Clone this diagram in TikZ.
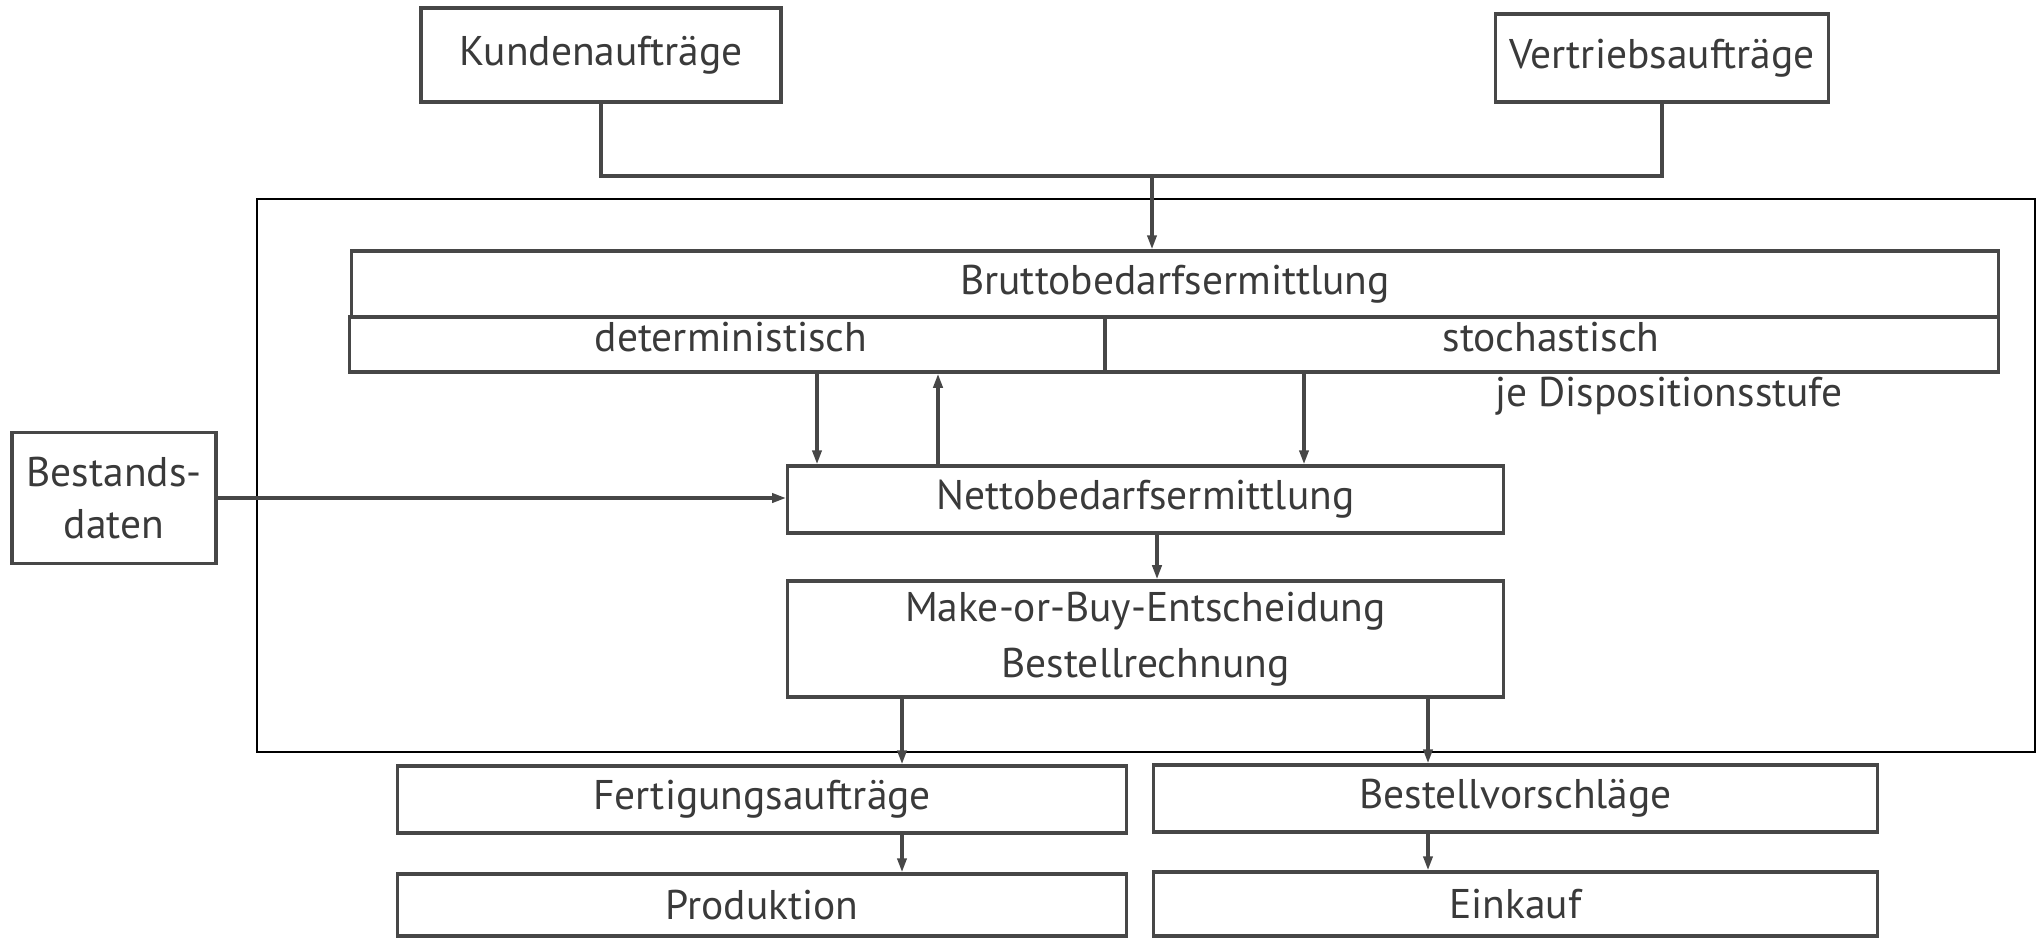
\documentclass[tikz,border=0pt]{standalone}
\usepackage{fontspec}
\setmainfont{PT Sans}
\usetikzlibrary{arrows.meta,calc}

\definecolor{linegray}{HTML}{474747}
\definecolor{textgray}{HTML}{3A3A3A}

\tikzset{
  box/.style={draw=linegray, line width=0.95pt, text=textgray, inner sep=0pt,
    align=center, font=\fontsize{11.8}{16}\selectfont},
  label/.style={text=textgray, inner sep=0pt, font=\fontsize{11.8}{16}\selectfont},
  conn/.style={draw=linegray, line width=0.95pt},
  arr/.style={conn, -{Triangle[length=4pt,width=2.6pt]}}
}

\begin{document}
\begin{tikzpicture}[x=0.01cm,y=-0.01cm]
  \useasboundingbox (0,0) rectangle (2038,938);

  %%%%% Eingaenge %%%%%
  \node[box, minimum width=3.6cm, minimum height=0.94cm] (kunden) at (601,55) {\raisebox{0.6mm}{Kundenaufträge}};
  \node[box, minimum width=3.33cm, minimum height=0.88cm] (vertrieb) at (1662,58) {Vertriebsaufträge};
  \node[box, minimum width=2.04cm, minimum height=1.31cm, font=\fontsize{11.8}{14.6}\selectfont] (bestand) at (114,498) {Bestands-\\daten};

  %%%%% Rahmen %%%%%
  \draw[black, line width=0.7pt] (257,199) rectangle (2035,752);

  \node[box, minimum width=16.46cm, minimum height=0.66cm] (brutto) at (1175,284) {};
  \node[label] at (1175,284) {Bruttobedarfsermittlung};
  \node[box, minimum width=7.55cm, minimum height=0.55cm] (det) at (727.5,344.5) {};
  \node[label] at (731,337) {deterministisch};
  \node[box, minimum width=8.93cm, minimum height=0.55cm] (stoch) at (1551.5,344.5) {};
  \node[label] at (1551,337) {stochastisch};
  \node[label] (stufe) at (1669,396) {je Dispositionsstufe};

  \node[box, minimum width=7.15cm, minimum height=0.67cm] (netto) at (1145.5,499.5) {Nettobedarfsermittlung};
  \node[box, minimum width=7.15cm, minimum height=1.16cm] (make) at (1145.5,639) {Make-or-Buy-Entscheidung\\Bestellrechnung};

  %%%%% Ausgaenge %%%%%
  \node[box, minimum width=7.28cm, minimum height=0.67cm] (fert) at (762,799.5) {Fertigungsaufträge};
  \node[box, minimum width=7.23cm, minimum height=0.67cm] (bestv) at (1515.5,798.5) {Bestellvorschläge};
  \node[box, minimum width=7.28cm, minimum height=0.62cm] (prod) at (762,905) {Produktion};
  \node[box, minimum width=7.23cm, minimum height=0.64cm] (einkauf) at (1515.5,904) {Einkauf};

  %%%%% Verbindungen %%%%%
  \coordinate (junc) at (1152,176);
  \coordinate (xa) at (817,0);
  \coordinate (xb) at (938,0);
  \coordinate (xc) at (1304,0);
  \coordinate (xd) at (1157,0);
  \coordinate (xe) at (902,0);
  \coordinate (xf) at (1428,0);

  \draw[conn] (kunden.south) |- (junc) -| (vertrieb.south);
  \draw[arr] (junc) -- (junc |- brutto.north);

  \draw[arr] (det.south -| xa) -- (netto.north -| xa);
  \draw[arr] (netto.north -| xb) -- (det.south -| xb);
  \draw[arr] (stoch.south -| xc) -- (netto.north -| xc);
  \draw[arr] (bestand.east) -- (bestand.east -| netto.west);
  \draw[arr] (netto.south -| xd) -- (make.north -| xd);

  \draw[arr] (make.south -| xe) -- (fert.north -| xe);
  \draw[arr] (make.south -| xf) -- (bestv.north -| xf);
  \draw[arr] (fert.south -| xe) -- (prod.north -| xe);
  \draw[arr] (bestv.south -| xf) -- (einkauf.north -| xf);
\end{tikzpicture}
\end{document}
